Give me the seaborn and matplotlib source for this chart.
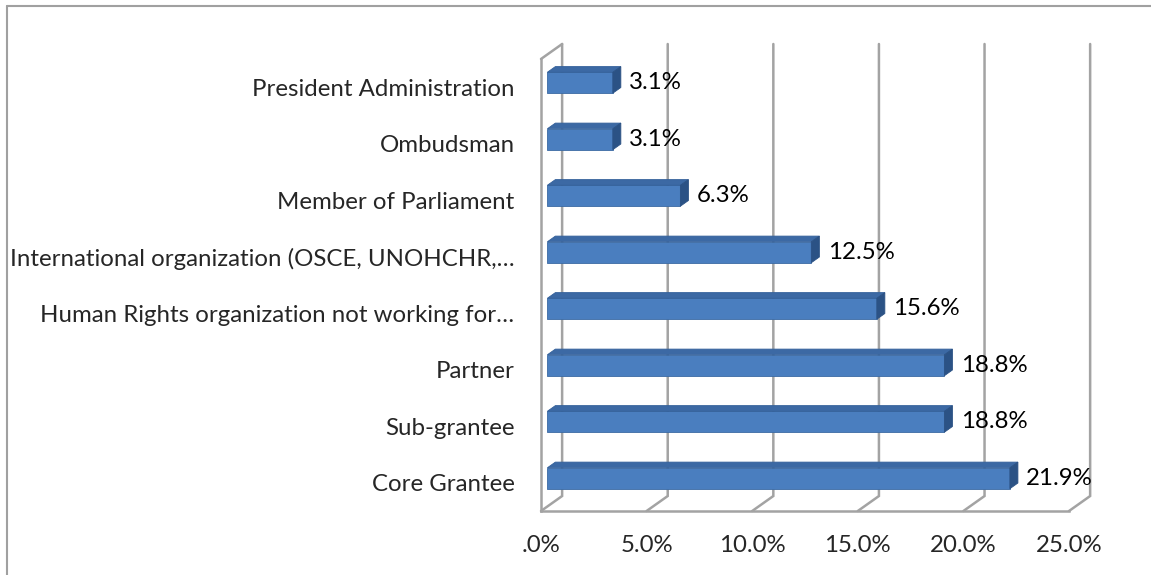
import numpy as np
import pandas as pd
import matplotlib.pyplot as plt
from matplotlib.patches import Polygon
from matplotlib.lines import Line2D
import seaborn as sns

categories = ["President Administration", "Ombudsman", "Member of Parliament",
              "International organization (OSCE, UNOHCHR,…",
              "Human Rights organization not working for…",
              "Partner", "Sub-grantee", "Core Grantee"]
values = [3.1, 3.1, 6.3, 12.5, 15.6, 18.8, 18.8, 21.9]
x_ticks = [0, 5, 10, 15, 20, 25]
x_tick_labels = [".0%", "5.0%", "10.0%", "15.0%", "20.0%", "25.0%"]

sns.set_style("white")
plt.rcParams['font.family'] = ['Lato', 'DejaVu Sans']
FS = 17.3
GRID = "#a3a3a3"

W, H = 1151, 575
fig = plt.figure(figsize=(W / 100, H / 100), dpi=100)
ax = fig.add_axes([541 / W, 1 - 511 / H, (1100.7 - 541) / W, (511 - 39.2) / H])

# depth of the 3d box in data units, and bar front/back depth fractions
dx, dy = 1.0, 0.265
f0, f1 = 0.3, 0.68

df = pd.DataFrame({"cat": categories, "val": values})
sns.barplot(data=df, x="val", y="cat", orient="h", width=0.37, color="#4a7ebf",
            saturation=1, ax=ax, zorder=3, edgecolor="#3b6aa3", linewidth=0.6)

ddx, ddy = (f1 - f0) * dx, (f1 - f0) * dy
for p, v in zip(ax.patches[:len(values)], values):
    p.set_x(p.get_x() + f0 * dx)
    p.set_y(p.get_y() - f0 * dy)
    x0, y0, h = p.get_x(), p.get_y(), p.get_height()
    x1 = x0 + p.get_width()
    top = Polygon([(x0, y0), (x1, y0), (x1 + ddx, y0 - ddy), (x0 + ddx, y0 - ddy)],
                  closed=True, facecolor="#3c69a4", edgecolor="#33609a", lw=0.6, zorder=3)
    side = Polygon([(x1, y0), (x1, y0 + h), (x1 + ddx, y0 + h - ddy), (x1 + ddx, y0 - ddy)],
                   closed=True, facecolor="#2b5285", edgecolor="#2b5285", lw=0.6, zorder=3)
    ax.add_patch(top)
    ax.add_patch(side)
    ax.text(x1 + ddx + 0.4, y0 + h / 2, f"{v:.1f}%", va="center", ha="left",
            fontsize=FS, color="black", zorder=4)

# back wall gridlines + floor diagonals
ytop, ybot = -0.5, len(categories) - 0.5
for k in x_ticks:
    ax.plot([k + dx, k + dx, k], [ytop - dy, ybot - dy, ybot], color=GRID, lw=1.8,
            clip_on=False, zorder=1, solid_joinstyle="miter")
ax.plot([0, dx], [ytop, ytop - dy], color=GRID, lw=1.8, clip_on=False, zorder=1)

ax.set_xlim(0, 26.5)
ax.set_ylim(ybot, -0.85)
ax.set_xticks(x_ticks)
ax.set_xticklabels(x_tick_labels, fontsize=FS)
ax.set_yticks(range(len(categories)))
ax.set_yticklabels(categories, fontsize=FS)
ax.set_yticks(np.arange(-0.5, len(categories), 1.0), minor=True)
ax.tick_params(axis="y", which="major", length=0, pad=19)
ax.tick_params(axis="y", which="minor", length=4.5, width=1.3, color=GRID, direction="out")
ax.tick_params(axis="x", length=4.5, width=1.3, color=GRID, direction="out", pad=13)
ax.set_xlabel("")
ax.set_ylabel("")

for s in ["top", "right"]:
    ax.spines[s].set_visible(False)
ax.spines["left"].set_bounds(ytop, ybot)
ax.spines["bottom"].set_bounds(0, 25)
for s in ["left", "bottom"]:
    ax.spines[s].set_color(GRID)
    ax.spines[s].set_linewidth(1.8)
ax.patch.set_alpha(0)

# outer chart border (only left and top visible in the crop)
fig.add_artist(Line2D([7 / W, 7 / W], [0, 1 - 6 / H], transform=fig.transFigure, color="#a0a0a0", lw=1.5))
fig.add_artist(Line2D([7 / W, 1], [1 - 6 / H, 1 - 6 / H], transform=fig.transFigure, color="#a0a0a0", lw=1.5))

fig.savefig("out.png", dpi=100)
